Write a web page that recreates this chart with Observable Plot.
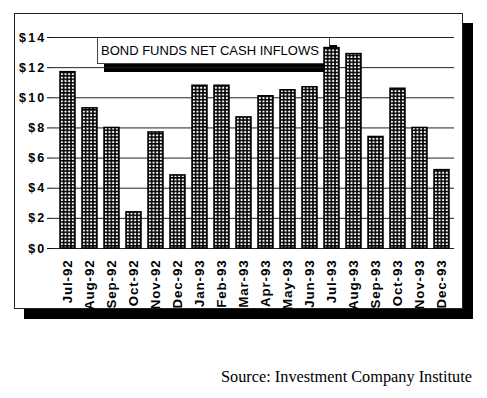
<!DOCTYPE html>
<html>
<head>
<meta charset="utf-8">
<script src="https://cdn.jsdelivr.net/npm/d3@7"></script>
<script src="https://cdn.jsdelivr.net/npm/@observablehq/plot@0.6"></script>
<style>
  html, body { margin: 0; padding: 0; background: #fff; }
  #wrap { position: relative; width: 487px; height: 398px; overflow: hidden; background: #fff; }
  #frame { position: absolute; left: 14px; top: 13px; width: 447px; height: 294px;
           border: 1px solid #222; background: #fff; box-shadow: 10px 10px 0 #000; }
  #titlebox { position: absolute; left: 97px; top: 37px; width: 228px; height: 25px;
              border: 1px solid #444; background: #fff; box-shadow: 7px 8px 0 #000;
              font-family: "Liberation Sans", Arial, sans-serif; font-size: 13px; color: #000;
              line-height: 26px; padding-left: 3px; box-sizing: content-box; letter-spacing: 0px; }
  #chart { position: absolute; left: 0; top: 0; }
  #source { position: absolute; right: 15px; top: 367px;
            font-family: "Liberation Serif", "Times New Roman", serif; font-size: 16.3px; color: #000; }
</style>
</head>
<body>
<div id="wrap">
  <div id="frame"></div>
  <div id="titlebox">BOND FUNDS NET CASH INFLOWS</div>
  <div id="chart"></div>
  <div id="source">Source: Investment Company Institute</div>
</div>
<script>
const months = ["Jul-92","Aug-92","Sep-92","Oct-92","Nov-92","Dec-92","Jan-93","Feb-93","Mar-93",
                "Apr-93","May-93","Jun-93","Jul-93","Aug-93","Sep-93","Oct-93","Nov-93","Dec-93"];
const inflows = [11.7, 9.3, 8.0, 2.4, 7.7, 4.85, 10.8, 10.8, 8.7,
                 10.1, 10.5, 10.7, 13.3, 12.9, 7.4, 10.6, 8.0, 5.2];
const yTicks = [0, 2, 4, 6, 8, 10, 12, 14];

const data = months.map((m, i) => ({month: m, value: inflows[i]}));

const plot = Plot.plot({
  width: 487,
  height: 340,
  marginLeft: 53,
  marginRight: 33,
  marginTop: 37,
  marginBottom: 92,
  style: {background: "transparent", fontFamily: "'Liberation Sans', Arial, sans-serif", color: "#000"},
  x: {domain: months, paddingInner: 0.33, paddingOuter: 0.17, align: 0.6, label: null},
  y: {domain: [0, 14], label: null},
  marks: [
    Plot.gridY(yTicks, {stroke: "#222", strokeOpacity: 1, strokeWidth: 1}),
    Plot.axisY(yTicks, {tickSize: 6, tickPadding: 1, tickFormat: d => `$${d}`, label: null, stroke: "#111"}),
    Plot.axisX({tickSize: 0, tickPadding: 11, tickRotate: -90, label: null}),
    Plot.barY(data, {x: "month", y: "value", fill: "url(#grid)", stroke: "#000", strokeWidth: 1.5})
  ]
});

// pattern aligned to the band scale so every bar gets the same crosshatch
const xs = plot.scale("x");
const step = xs.step;
const x0 = xs.apply(months[0]);
const cellW = step / 6;
const cellH = 3.4;
const svg = d3.select(plot);
const defs = svg.insert("defs", ":first-child");
const pat = defs.append("pattern")
  .attr("id", "grid")
  .attr("patternUnits", "userSpaceOnUse")
  .attr("x", x0).attr("y", 0.3)
  .attr("width", cellW).attr("height", cellH);
pat.append("rect").attr("width", cellW).attr("height", cellH).attr("fill", "#fff");
pat.append("rect").attr("x", -0.8).attr("width", 1.6).attr("height", cellH).attr("fill", "#000");
pat.append("rect").attr("x", cellW - 0.8).attr("width", 1.6).attr("height", cellH).attr("fill", "#000");
pat.append("rect").attr("y", 0).attr("width", cellW).attr("height", 1.5).attr("fill", "#000");

svg.selectAll('g[aria-label="x-axis tick label"] text')
  .style("font-size", "13.3px").style("font-weight", "bold").style("letter-spacing", "0.9px");
svg.selectAll('g[aria-label="y-axis tick label"] text')
  .style("font-size", "12.5px").style("font-weight", "bold").style("letter-spacing", "2.2px");

document.getElementById("chart").appendChild(plot);
</script>
</body>
</html>
